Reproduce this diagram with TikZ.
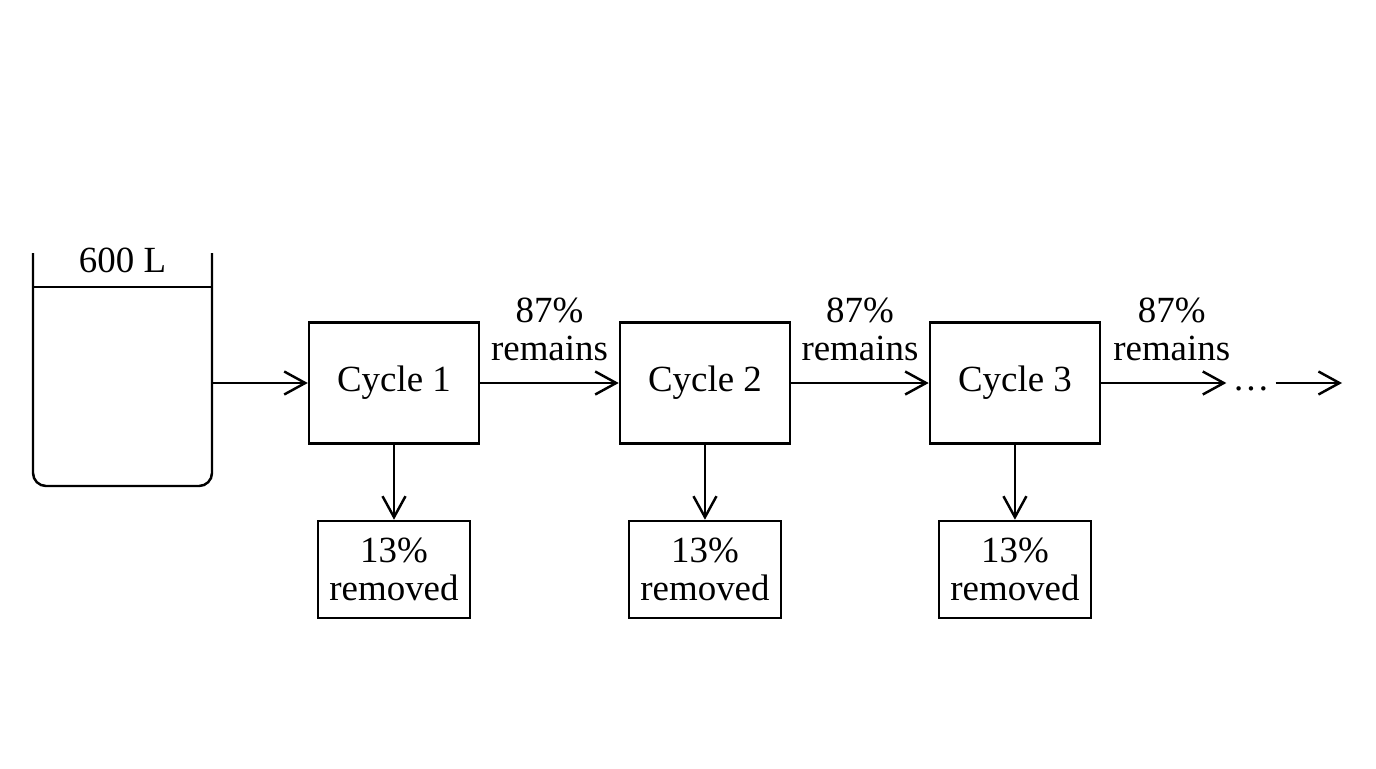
\documentclass[tikz,border=0pt]{standalone}
\usepackage{fontspec}
\setmainfont{Liberation Serif}
\usetikzlibrary{positioning,arrows.meta}

\begin{document}
\begin{tikzpicture}[
      line width=1.4pt,
      node distance=2.75cm,
      every node/.style={font=\fontsize{21}{21.5}\selectfont},
      cycle/.style={rectangle, draw, minimum width=3.4cm, minimum height=2.42cm, inner sep=0pt},
      removed/.style={rectangle, draw, minimum width=3.04cm, minimum height=1.94cm,
                      align=center, inner sep=0pt},
      flow/.style={-{Straight Barb[length=4.2mm, width=4.6mm]}},
      share/.style={above=0.42cm, align=center, inner sep=0pt},
    ]
    \useasboundingbox (0,0) rectangle (27.52,-15.36);

    % tank
    \draw[rounded corners=0.26cm] (0.66,-5.06) -- (0.66,-9.72) -- (4.24,-9.72) -- (4.24,-5.06);
    \draw (0.66,-5.74) -- (4.24,-5.74);
    \node (vol) at (2.45,-5.2) {600 L};
    \coordinate (tankout) at (4.24,-7.66);

    \node[cycle] (c1) at (7.88,-7.66) {Cycle 1};
    \node[cycle, right=2.77cm of c1] (c2) {Cycle 2};
    \node[cycle, right=of c2] (c3) {Cycle 3};

    \node[removed, below=1.5cm of c1] (r1) {13\%\\removed};
    \node[removed, below=1.5cm of c2] (r2) {13\%\\removed};
    \node[removed, below=1.5cm of c3] (r3) {13\%\\removed};

    \node[inner sep=0.1cm, text height=0.88em, text depth=0pt] (dots) at (25.02,-7.66) {…};
    \coordinate (end) at (26.84,-7.66);

    \draw[flow] (tankout) -- (c1);
    \draw[flow] (c1) -- node[share] {87\%\\remains} (c2);
    \draw[flow] (c2) -- node[share] {87\%\\remains} (c3);
    \draw[flow] (c3) -- node[share, xshift=0.16cm] {87\%\\remains} (dots);
    \draw[flow] (dots) -- (end);

    \draw[flow] (c1) -- (r1);
    \draw[flow] (c2) -- (r2);
    \draw[flow] (c3) -- (r3);
  \end{tikzpicture}
\end{document}
